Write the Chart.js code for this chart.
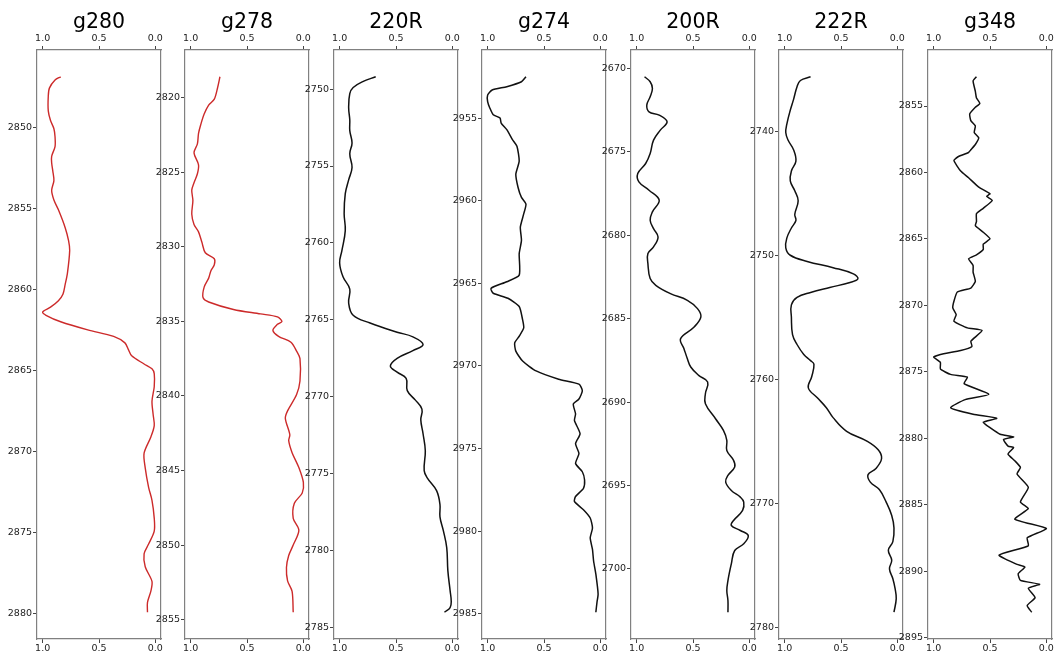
<!DOCTYPE html>
<html>
<head>
<meta charset="utf-8">
<script src="https://cdn.jsdelivr.net/npm/chart.js@4.4.1/dist/chart.umd.min.js"></script>
<style>
  html, body { margin: 0; padding: 0; background: #fff; }
  #wrap { position: relative; width: 1054px; height: 655px; overflow: hidden; background: #fff; }
  #wrap canvas { position: absolute; top: 0; }
</style>
</head>
<body>
<div id="wrap"></div>
<script>
// --- data (depth goes down, value is the normalised log) ---
const xTicks = [0, 0.5, 1.0];

const g280Depth = [2846.9, 2847.1, 2847.6, 2848.1, 2849.0, 2849.6, 2850.1, 2850.6, 2851.2, 2851.8, 2852.2, 2852.7, 2853.3, 2853.9, 2854.5, 2855.1, 2856.2, 2857.0, 2857.6, 2859.0, 2859.7, 2860.3, 2860.7, 2861.1, 2861.4, 2861.6, 2862.0, 2862.5, 2862.9, 2863.3, 2863.7, 2864.1, 2864.6, 2864.9, 2865.2, 2866.0, 2866.9, 2867.7, 2868.4, 2869.1, 2870.1, 2871.0, 2872.2, 2873.0, 2874.1, 2874.9, 2875.7, 2876.3, 2877.1, 2878.0, 2878.6, 2879.3, 2879.9];
const g280Value = [0.84, 0.89, 0.94, 0.95, 0.95, 0.93, 0.90, 0.89, 0.89, 0.92, 0.92, 0.91, 0.90, 0.92, 0.90, 0.86, 0.80, 0.77, 0.76, 0.78, 0.80, 0.82, 0.86, 0.93, 1.00, 0.97, 0.84, 0.60, 0.37, 0.27, 0.24, 0.21, 0.10, 0.03, 0.01, 0.01, 0.03, 0.02, 0.01, 0.04, 0.10, 0.09, 0.06, 0.03, 0.01, 0.01, 0.06, 0.10, 0.09, 0.03, 0.04, 0.07, 0.07];
const g280Ticks = [2850, 2855, 2860, 2865, 2870, 2875, 2880];

const g278Depth = [2818.6, 2819.3, 2820.1, 2820.5, 2821.1, 2821.8, 2822.4, 2823.1, 2823.7, 2824.5, 2825.1, 2825.7, 2826.2, 2826.9, 2827.8, 2828.5, 2829.0, 2829.7, 2830.4, 2830.8, 2831.2, 2831.6, 2832.1, 2832.7, 2833.4, 2833.7, 2834.2, 2834.5, 2834.7, 2835.0, 2835.2, 2835.6, 2836.0, 2836.4, 2837.0, 2837.5, 2839.0, 2839.9, 2841.0, 2841.5, 2842.6, 2843.0, 2843.8, 2844.8, 2845.8, 2846.5, 2847.2, 2848.2, 2849.0, 2850.0, 2850.7, 2851.5, 2852.4, 2853.1, 2854.5];
const g278Value = [0.74, 0.76, 0.79, 0.84, 0.88, 0.91, 0.93, 0.94, 0.97, 0.93, 0.94, 0.97, 0.99, 0.98, 0.99, 0.97, 0.93, 0.90, 0.87, 0.79, 0.79, 0.82, 0.84, 0.88, 0.89, 0.84, 0.62, 0.38, 0.23, 0.19, 0.23, 0.27, 0.22, 0.11, 0.06, 0.03, 0.03, 0.06, 0.14, 0.16, 0.12, 0.13, 0.10, 0.04, 0.00, 0.01, 0.08, 0.09, 0.04, 0.09, 0.13, 0.15, 0.14, 0.10, 0.09];
const g278Ticks = [2820, 2825, 2830, 2835, 2840, 2845, 2850, 2855];

const r220Depth = [2749.2, 2749.5, 2749.9, 2750.3, 2751.2, 2752.0, 2752.7, 2753.5, 2754.2, 2755.1, 2755.9, 2756.8, 2758.1, 2759.2, 2760.5, 2761.3, 2762.2, 2763.0, 2763.9, 2764.7, 2765.2, 2765.8, 2766.1, 2766.6, 2767.0, 2767.5, 2768.0, 2768.4, 2768.8, 2769.6, 2770.2, 2770.8, 2771.5, 2772.4, 2773.5, 2774.8, 2775.3, 2776.1, 2777.0, 2777.8, 2778.7, 2779.8, 2781.3, 2782.6, 2783.3, 2783.7, 2784.0];
const r220Value = [0.68, 0.79, 0.88, 0.91, 0.92, 0.91, 0.91, 0.89, 0.91, 0.89, 0.92, 0.95, 0.96, 0.95, 0.98, 1.00, 0.97, 0.91, 0.92, 0.88, 0.73, 0.49, 0.35, 0.26, 0.35, 0.49, 0.55, 0.49, 0.41, 0.40, 0.33, 0.27, 0.28, 0.26, 0.24, 0.25, 0.22, 0.14, 0.11, 0.11, 0.08, 0.05, 0.04, 0.02, 0.01, 0.02, 0.07];
const r220Ticks = [2750, 2755, 2760, 2765, 2770, 2775, 2780, 2785];

const g274Depth = [2952.5, 2952.8, 2953.1, 2953.3, 2953.6, 2954.0, 2954.4, 2954.8, 2955.0, 2955.3, 2955.7, 2956.3, 2956.7, 2957.6, 2958.4, 2959.2, 2959.8, 2960.2, 2960.8, 2961.6, 2962.4, 2963.2, 2964.5, 2964.9, 2965.3, 2965.6, 2965.9, 2966.4, 2967.2, 2967.7, 2968.2, 2968.6, 2969.1, 2969.7, 2970.3, 2970.8, 2971.1, 2971.5, 2972.0, 2972.3, 2972.9, 2973.3, 2974.1, 2974.7, 2975.3, 2975.9, 2976.4, 2976.9, 2977.4, 2977.9, 2978.2, 2978.7, 2979.2, 2979.8, 2980.4, 2981.1, 2981.8, 2982.6, 2983.8, 2984.3, 2984.9];
const g274Value = [0.66, 0.70, 0.83, 0.96, 1.00, 1.00, 0.98, 0.95, 0.89, 0.88, 0.83, 0.78, 0.74, 0.72, 0.75, 0.73, 0.70, 0.66, 0.68, 0.71, 0.70, 0.72, 0.72, 0.83, 0.97, 0.95, 0.82, 0.72, 0.69, 0.68, 0.72, 0.76, 0.75, 0.69, 0.57, 0.37, 0.19, 0.16, 0.19, 0.24, 0.22, 0.23, 0.18, 0.22, 0.19, 0.22, 0.16, 0.14, 0.15, 0.22, 0.23, 0.15, 0.09, 0.07, 0.09, 0.07, 0.06, 0.04, 0.02, 0.03, 0.04];
const g274Ticks = [2955, 2960, 2965, 2970, 2975, 2980, 2985];

const r200Depth = [2670.5, 2670.8, 2671.2, 2671.7, 2672.2, 2672.6, 2672.8, 2673.2, 2673.7, 2674.3, 2675.1, 2675.7, 2676.3, 2676.8, 2677.3, 2677.9, 2678.6, 2679.1, 2679.6, 2680.1, 2680.7, 2681.1, 2681.7, 2682.6, 2683.0, 2683.5, 2683.9, 2684.4, 2684.9, 2685.5, 2686.2, 2686.8, 2687.4, 2687.9, 2688.4, 2688.8, 2689.5, 2690.1, 2691.0, 2691.7, 2692.3, 2692.9, 2693.5, 2693.9, 2694.4, 2694.8, 2695.3, 2695.7, 2696.0, 2696.5, 2697.1, 2697.4, 2697.7, 2698.0, 2698.5, 2698.9, 2699.7, 2700.7, 2701.3, 2701.9, 2702.6];
const r200Value = [0.93, 0.88, 0.86, 0.88, 0.91, 0.89, 0.80, 0.73, 0.79, 0.85, 0.88, 0.92, 0.99, 0.98, 0.89, 0.80, 0.86, 0.88, 0.85, 0.81, 0.85, 0.90, 0.90, 0.88, 0.83, 0.70, 0.55, 0.46, 0.43, 0.49, 0.61, 0.58, 0.55, 0.52, 0.45, 0.37, 0.39, 0.39, 0.30, 0.23, 0.20, 0.20, 0.14, 0.13, 0.19, 0.21, 0.16, 0.08, 0.05, 0.06, 0.14, 0.16, 0.08, 0.01, 0.05, 0.13, 0.16, 0.19, 0.20, 0.19, 0.19];
const r200Ticks = [2670, 2675, 2680, 2685, 2690, 2695, 2700];

const r222Depth = [2735.6, 2735.9, 2736.4, 2737.4, 2738.3, 2739.4, 2740.1, 2740.7, 2741.5, 2742.4, 2743.2, 2744.0, 2744.8, 2745.6, 2746.7, 2747.2, 2747.8, 2748.6, 2749.4, 2750.0, 2750.5, 2751.0, 2751.5, 2751.9, 2752.2, 2752.6, 2753.0, 2753.4, 2754.0, 2755.0, 2756.4, 2757.2, 2758.0, 2758.5, 2758.8, 2759.8, 2760.7, 2761.5, 2762.3, 2763.1, 2764.2, 2765.0, 2765.7, 2766.4, 2767.2, 2767.7, 2768.3, 2768.9, 2769.9, 2771.0, 2772.0, 2773.1, 2773.8, 2774.6, 2775.3, 2776.1, 2776.9, 2777.7, 2778.8];
const r222Value = [0.77, 0.86, 0.89, 0.92, 0.95, 0.98, 0.99, 0.97, 0.92, 0.90, 0.94, 0.95, 0.91, 0.88, 0.91, 0.90, 0.94, 0.98, 0.99, 0.95, 0.80, 0.57, 0.39, 0.35, 0.42, 0.60, 0.77, 0.89, 0.94, 0.94, 0.93, 0.89, 0.83, 0.77, 0.74, 0.76, 0.79, 0.71, 0.63, 0.57, 0.45, 0.27, 0.17, 0.14, 0.19, 0.26, 0.24, 0.16, 0.10, 0.05, 0.03, 0.04, 0.08, 0.05, 0.07, 0.04, 0.02, 0.01, 0.03];
const r222Ticks = [2740, 2750, 2760, 2770, 2780];

const g348Depth = [2852.8, 2853.1, 2853.9, 2854.4, 2854.8, 2855.1, 2855.6, 2856.1, 2856.5, 2857.0, 2857.4, 2857.9, 2858.3, 2858.5, 2858.8, 2859.1, 2859.9, 2860.4, 2861.1, 2861.6, 2861.8, 2862.1, 2862.7, 2863.1, 2863.7, 2864.0, 2864.5, 2865.0, 2865.4, 2865.8, 2866.2, 2866.5, 2867.0, 2867.5, 2868.2, 2868.7, 2869.0, 2869.7, 2870.2, 2870.7, 2871.2, 2871.7, 2871.9, 2872.7, 2873.1, 2873.4, 2873.7, 2873.9, 2874.3, 2874.8, 2875.2, 2875.4, 2875.9, 2876.7, 2877.1, 2877.7, 2878.2, 2878.5, 2878.8, 2879.2, 2879.7, 2879.9, 2880.1, 2880.6, 2880.7, 2881.2, 2881.7, 2882.2, 2882.7, 2883.7, 2884.8, 2885.3, 2886.1, 2886.8, 2887.5, 2888.1, 2888.8, 2889.5, 2889.7, 2890.2, 2890.7, 2891.0, 2891.3, 2892.0, 2892.6, 2893.1];
const g348Value = [0.62, 0.65, 0.63, 0.62, 0.59, 0.63, 0.68, 0.67, 0.63, 0.64, 0.60, 0.63, 0.67, 0.69, 0.78, 0.82, 0.76, 0.69, 0.60, 0.50, 0.53, 0.48, 0.56, 0.62, 0.62, 0.63, 0.56, 0.50, 0.56, 0.56, 0.62, 0.69, 0.65, 0.65, 0.63, 0.67, 0.79, 0.82, 0.83, 0.80, 0.82, 0.70, 0.57, 0.67, 0.66, 0.76, 0.94, 1.00, 0.94, 0.94, 0.85, 0.70, 0.73, 0.51, 0.72, 0.85, 0.65, 0.44, 0.56, 0.50, 0.41, 0.29, 0.38, 0.34, 0.29, 0.34, 0.28, 0.23, 0.26, 0.16, 0.23, 0.16, 0.28, 0.00, 0.17, 0.16, 0.42, 0.26, 0.19, 0.25, 0.23, 0.06, 0.16, 0.10, 0.17, 0.13];
const g348Ticks = [2855, 2860, 2865, 2870, 2875, 2880, 2885, 2890, 2895];

const panelNames = ['g280', 'g278', '220R', 'g274', '200R', '222R', 'g348'];

// --- layout of the page ---
const PANEL_W = 124;
const Y_AXIS_W = 40;
const PAD_RIGHT = 8;
const CANVAS_H = 655;
const TITLE_SIZE = 20.5;
const TITLE_LH = 0.6;     // small box, text is drawn at its middle anyway
const TITLE_PAD = 16.9;
const TOP_EDGE = 50;      // where the frame starts
const BOTTOM_AXIS_H = 16; // below the frame
const FRAME = '#808080';
const INK = '#222';

Chart.defaults.font.family = "'DejaVu Sans', sans-serif";
Chart.defaults.color = INK;

function paddedRange(arr){
    // matplotlib style 5% margin around the data
    let lo = Math.min(...arr), hi = Math.max(...arr);
    let m = (hi - lo) * 0.05;
    return [lo - m, hi + m];
}

function xScale(position){
    return {
        type: 'linear',
        position: position,
        min: -0.05,
        max: 1.05,
        reverse: true,
        afterBuildTicks: function(s){ s.ticks = xTicks.map(v => ({value: v})); },
        afterFit: function(s){
            if(position == 'top'){
                s.height = TOP_EDGE - (TITLE_SIZE * TITLE_LH + TITLE_PAD);
            } else {
                s.height = BOTTOM_AXIS_H;
            }
        },
        ticks: {
            autoSkip: false,
            maxRotation: 0,
            padding: position == 'top' ? 2 : 0,
            font: {size: 9.5},
            color: INK,
            callback: v => Number(v).toFixed(1)
        },
        grid: { drawOnChartArea: false, drawTicks: true, tickLength: 4, color: '#444' },
        border: { display: true, color: FRAME, width: 1.2 }
    };
}

function renderPanel(idx, name, depths, values, yTicks, lineColor, lineWidth, tension){

    let left = Math.round(36.7 + idx * 148.5) - Y_AXIS_W;
    let canvas = document.createElement('canvas');
    canvas.width = Y_AXIS_W + PANEL_W + PAD_RIGHT;
    canvas.height = CANVAS_H;
    canvas.style.left = left + 'px';
    document.getElementById('wrap').appendChild(canvas);

    let pts = depths.map((d, i) => ({x: values[i], y: d}));
    let yr = paddedRange(depths);

    new Chart(canvas.getContext('2d'), {
        type: 'scatter',
        data: {
            datasets: [{
                label: name,
                data: pts,
                showLine: true,
                borderColor: lineColor,
                borderWidth: lineWidth,
                pointRadius: 0,
                tension: tension,
                fill: false
            }]
        },
        options: {
            responsive: false,
            animation: false,
            events: [],
            layout: { padding: { left: 0, right: PAD_RIGHT, top: 0, bottom: 0 } },
            scales: {
                x: xScale('bottom'),
                xt: xScale('top'),
                y: {
                    type: 'linear',
                    position: 'left',
                    min: yr[0],
                    max: yr[1],
                    reverse: true,
                    afterBuildTicks: function(s){ s.ticks = yTicks.map(v => ({value: v})); },
                    afterFit: function(s){ s.width = Y_AXIS_W; },
                    ticks: { padding: 1, font: {size: 9.5}, color: INK, callback: v => String(v) },
                    grid: { drawOnChartArea: false, drawTicks: true, tickLength: 4, color: '#444' },
                    border: { display: true, color: FRAME, width: 1.2 }
                },
                // right edge of the frame only
                yr: {
                    type: 'linear',
                    position: 'right',
                    ticks: { display: false },
                    grid: { display: false },
                    afterFit: function(s){ s.width = 0; },
                    border: { display: true, color: FRAME, width: 1.2 }
                }
            },
            plugins: {
                legend: { display: false },
                tooltip: { enabled: false },
                title: {
                    display: true,
                    text: name,
                    fullSize: false,
                    color: '#000',
                    font: { size: TITLE_SIZE, weight: 'normal', lineHeight: TITLE_LH },
                    padding: { top: TITLE_PAD, bottom: 0 }
                }
            }
        }
    });
}

// cara kerja: one small chart per well log
const RED = '#cc2a2a';
const BLACK = '#111';

renderPanel(0, panelNames[0], g280Depth, g280Value, g280Ticks, RED, 1.4, 0.3);
renderPanel(1, panelNames[1], g278Depth, g278Value, g278Ticks, RED, 1.4, 0.3);
renderPanel(2, panelNames[2], r220Depth, r220Value, r220Ticks, BLACK, 1.5, 0.4);
renderPanel(3, panelNames[3], g274Depth, g274Value, g274Ticks, BLACK, 1.5, 0.2);
renderPanel(4, panelNames[4], r200Depth, r200Value, r200Ticks, BLACK, 1.5, 0.4);
renderPanel(5, panelNames[5], r222Depth, r222Value, r222Ticks, BLACK, 1.5, 0.4);
renderPanel(6, panelNames[6], g348Depth, g348Value, g348Ticks, BLACK, 1.5, 0.15);
</script>
</body>
</html>
